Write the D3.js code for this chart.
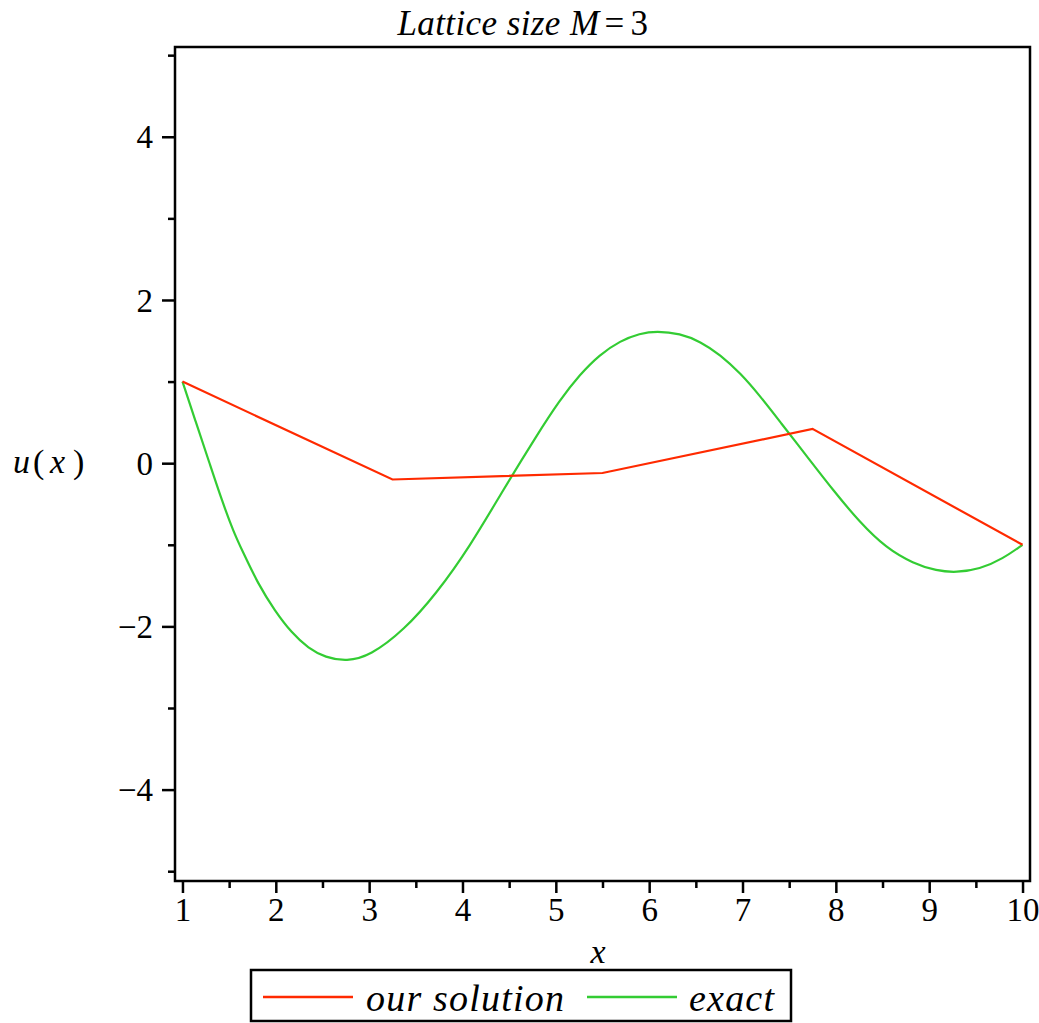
<!DOCTYPE html>
<html>
<head>
<meta charset="utf-8">
<script src="https://cdn.jsdelivr.net/npm/d3@7"></script>
<style>
  body { margin: 0; background: #fff; }
  svg { display: block; font-family: "Liberation Serif", "Times New Roman", serif; }
  .tick-label { font-size: 33px; fill: #000; }
</style>
</head>
<body>
<svg id="chart" width="1039" height="1023"></svg>
<script>
// our solution (lattice M = 3, nodes every 2.25)
const solution_x = [1, 3.25, 5.5, 7.75, 10];
const solution_y = [1, -0.2, -0.12, 0.42, -1];

// exact solution
const exact_x = [1.00, 1.15, 1.29, 1.42, 1.55, 1.64, 1.81, 1.99, 2.17, 2.35, 2.53, 2.76, 3.01, 3.37,
                 3.72, 4.08, 4.44, 4.79, 5.04, 5.26, 5.47, 5.69, 5.90, 6.08, 6.33, 6.55, 6.76, 6.98,
                 7.19, 7.40, 7.72, 7.97, 8.26, 8.54, 8.83, 9.08, 9.29, 9.54, 9.79, 10.0];
const exact_y = [1.00, 0.48, 0.00, -0.45, -0.85, -1.07, -1.48, -1.81, -2.08, -2.27, -2.38, -2.43, -2.36, -2.05,
                 -1.60, -1.02, -0.32, 0.33, 0.77, 1.09, 1.33, 1.50, 1.59, 1.62, 1.59, 1.49, 1.33, 1.10,
                 0.82, 0.51, 0.04, -0.33, -0.73, -1.04, -1.23, -1.32, -1.34, -1.30, -1.17, -1.00];

// ticks
const x_major = [1, 2, 3, 4, 5, 6, 7, 8, 9, 10];
const x_minor = [1.5, 2.5, 3.5, 4.5, 5.5, 6.5, 7.5, 8.5, 9.5];
const y_major = [-4, -2, 0, 2, 4];
const y_minor = [-5, -3, -1, 1, 3, 5];

const series_names = ['our solution', 'exact'];
const series_colors = ['#ff2a00', '#33cc33'];

const svg = d3.select('#chart');

const plot_left = 175, plot_right = 1030, plot_top = 47, plot_bottom = 881;

const xScale = d3.scaleLinear().domain([0.92, 10.08]).range([plot_left, plot_right]);
const yScale = d3.scaleLinear().domain([-5.12, 5.1]).range([plot_bottom, plot_top]);

// frame
svg.append('rect')
    .attr('x', plot_left).attr('y', plot_top)
    .attr('width', plot_right - plot_left).attr('height', plot_bottom - plot_top)
    .attr('fill', 'none').attr('stroke', '#000').attr('stroke-width', 2.5);

// x axis ticks
const xAxisMajor = d3.axisBottom(xScale).tickValues(x_major).tickSize(12).tickFormat(d3.format('d'));
const xAxisMinor = d3.axisBottom(xScale).tickValues(x_minor).tickSize(7).tickFormat('');

const gx = svg.append('g').attr('transform', `translate(0, ${plot_bottom})`).call(xAxisMajor);
svg.append('g').attr('transform', `translate(0, ${plot_bottom})`).call(xAxisMinor)
    .call(g => g.select('.domain').remove())
    .selectAll('.tick line').attr('stroke-width', 2.5);

gx.select('.domain').remove();
gx.selectAll('.tick line').attr('stroke', '#000').attr('stroke-width', 2.5);
gx.selectAll('.tick text')
    .attr('class', 'tick-label')
    .attr('y', 17).attr('dy', '0.71em');
gx.attr('font-family', null).attr('font-size', null);

// y axis ticks
const yAxisMajor = d3.axisLeft(yScale).tickValues(y_major).tickSize(13)
    .tickFormat(d => d < 0 ? '\u2212' + Math.abs(d) : '' + d);
const yAxisMinor = d3.axisLeft(yScale).tickValues(y_minor).tickSize(7).tickFormat('');

const gy = svg.append('g').attr('transform', `translate(${plot_left}, 0)`).call(yAxisMajor);
svg.append('g').attr('transform', `translate(${plot_left}, 0)`).call(yAxisMinor)
    .call(g => g.select('.domain').remove())
    .selectAll('.tick line').attr('stroke-width', 2.5);

gy.select('.domain').remove();
gy.selectAll('.tick line').attr('stroke', '#000').attr('stroke-width', 2.5);
gy.selectAll('.tick text')
    .attr('class', 'tick-label')
    .attr('x', -22).attr('dy', '0.34em');
gy.attr('font-family', null).attr('font-size', null);

// lines
const solution = solution_x.map((x, i) => ({x: x, y: solution_y[i]}));
const exact = exact_x.map((x, i) => ({x: x, y: exact_y[i]}));

const straight = d3.line().x(d => xScale(d.x)).y(d => yScale(d.y));
const smooth = d3.line().x(d => xScale(d.x)).y(d => yScale(d.y)).curve(d3.curveBasis);

svg.append('path').datum(exact)
    .attr('d', smooth)
    .attr('fill', 'none').attr('stroke', series_colors[1]).attr('stroke-width', 2.2);

svg.append('path').datum(solution)
    .attr('d', straight)
    .attr('fill', 'none').attr('stroke', series_colors[0]).attr('stroke-width', 2.2)
    .attr('stroke-linejoin', 'miter');

// title
const title = svg.append('text')
    .attr('x', 523).attr('y', 35)
    .attr('text-anchor', 'middle')
    .attr('font-size', 35)
    .attr('letter-spacing', 0.4);
title.append('tspan').attr('font-style', 'italic').text('Lattice size M');
title.append('tspan').attr('dx', 5).text('=');
title.append('tspan').attr('dx', 6).text('3');

// y label u ( x )
const ylab = svg.append('text')
    .attr('y', 473)
    .attr('font-size', 34);
ylab.append('tspan').attr('x', 13).attr('font-style', 'italic').text('u');
ylab.append('tspan').attr('x', 33).text('(');
ylab.append('tspan').attr('x', 50).attr('font-style', 'italic').text('x');
ylab.append('tspan').attr('x', 73).text(')');

// x label
svg.append('text')
    .attr('x', 598).attr('y', 963)
    .attr('text-anchor', 'middle')
    .attr('font-size', 34)
    .attr('font-style', 'italic')
    .text('x');

// legend
const legend = svg.append('g');
legend.append('rect')
    .attr('x', 251).attr('y', 970)
    .attr('width', 540).attr('height', 51)
    .attr('fill', '#fff').attr('stroke', '#000').attr('stroke-width', 2.5);

const legend_items = [
    {name: series_names[0], color: series_colors[0], x0: 263, x1: 353, tx: 366},
    {name: series_names[1], color: series_colors[1], x0: 587, x1: 677, tx: 689}
];
legend_items.forEach(item => {
    legend.append('line')
        .attr('x1', item.x0).attr('x2', item.x1)
        .attr('y1', 997).attr('y2', 997)
        .attr('stroke', item.color).attr('stroke-width', 2.5);
    legend.append('text')
        .attr('x', item.tx).attr('y', 1011)
        .attr('font-size', 38)
        .attr('letter-spacing', 1.2)
        .attr('font-style', 'italic')
        .text(item.name);
});
</script>
</body>
</html>
